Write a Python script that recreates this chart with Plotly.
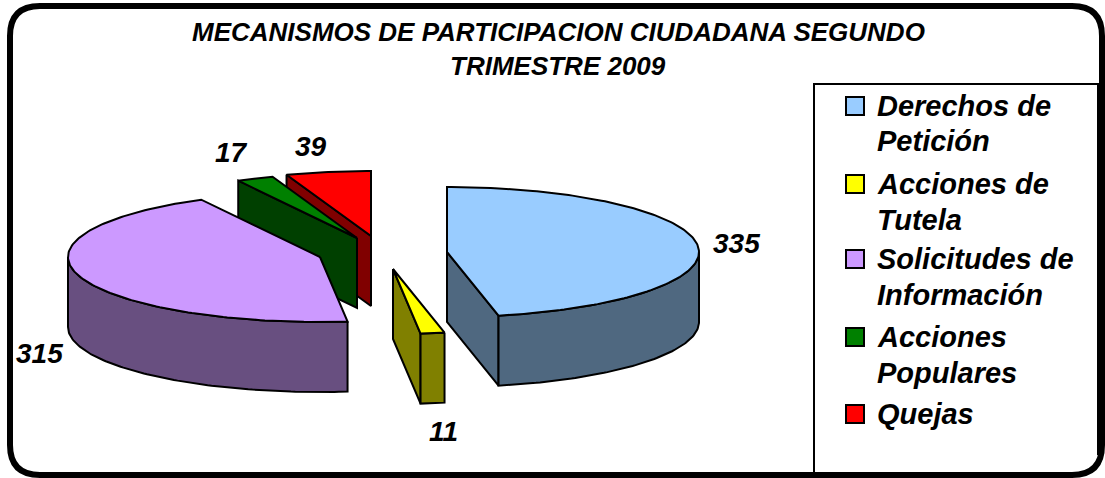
import numpy as np
import plotly.graph_objects as go

# --- data ---
title_lines = ["MECANISMOS DE PARTICIPACION CIUDADANA SEGUNDO", "TRIMESTRE 2009"]
categories = ["Derechos de Petición", "Acciones de Tutela", "Solicitudes de Información",
              "Acciones Populares", "Quejas"]
legend_lines = [["Derechos de", "Petición"], ["Acciones de", "Tutela"],
                ["Solicitudes de", "Información"], ["Acciones", "Populares"], ["Quejas"]]
values = [335, 11, 315, 17, 39]

# --- styles / layout ---
top_colors = ["#99CCFF", "#FFFF00", "#CC99FF", "#008000", "#FF0000"]
side_colors = ["#4F6880", "#808000", "#684F80", "#004000", "#800000"]
apex_x = [447, 393, 320, 357, 371]
apex_y = [252, 269, 257, 238, 236]
RX, RY, DEPTH = 252, 65, 70
label_pos = [(736, 243), (443, 431), (39, 353), (231, 152), (311, 146)]
FONT = "Liberation Sans"
W, H = 1105, 478

fig = go.Figure()


def rim(cx, cy, a0, a1, dy=0):
    t = np.radians(np.linspace(a0, a1, max(2, int(abs(a1 - a0)) + 2)))
    return cx + RX * np.sin(t), cy - RY * np.cos(t) + dy


def face(xs, ys, color, name):
    fig.add_trace(go.Scatter(x=list(xs), y=list(ys), mode="lines", fill="toself",
                             fillcolor=color, line=dict(color="black", width=2),
                             name=name, hoverinfo="name", showlegend=False))


total = sum(values)
edges = np.concatenate([[0], np.cumsum(values)]) * 360 / total
order = [4, 3, 2, 1, 0]
for i in order:
    a0, a1 = edges[i], edges[i + 1]
    cx, cy = apex_x[i], apex_y[i]
    name = f"{categories[i]}: {values[i]}"
    # radial cut faces turned towards the viewer
    for a, visible in ((a0, 180 < a0 < 360), (a1, 0 < a1 < 180)):
        if visible:
            ex, ey = rim(cx, cy, a, a)
            ex, ey = ex[0], ey[0]
            face([cx, ex, ex, cx, cx], [cy, ey, ey + DEPTH, cy + DEPTH, cy], side_colors[i], name)
    # outer wall (front half of the ellipse only)
    s0, s1 = max(a0, 90), min(a1, 270)
    if s1 > s0:
        tx, ty = rim(cx, cy, s0, s1)
        bx, by = rim(cx, cy, s1, s0, DEPTH)
        face(np.r_[tx, bx, tx[0]], np.r_[ty, by, ty[0]], side_colors[i], name)
    # top
    tx, ty = rim(cx, cy, a0, a1)
    face(np.r_[cx, tx, cx], np.r_[cy, ty, cy], top_colors[i], name)

# value labels
ann = []
for (x, y), v in zip(label_pos, values):
    ann.append(dict(x=x, y=y, text=f"<b><i>{v}</i></b>", showarrow=False,
                    font=dict(family=FONT, size=28, color="black")))
# title
for y, t in zip((32, 66), title_lines):
    ann.append(dict(x=558, y=y, text=f"<b><i>{t}</i></b>", showarrow=False,
                    font=dict(family=FONT, size=26, color="black")))


def rr(x0, y0, x1, y1, r):
    return (f"M{x0+r},{y0} L{x1-r},{y0} Q{x1},{y0} {x1},{y0+r} L{x1},{y1-r} Q{x1},{y1} {x1-r},{y1} "
            f"L{x0+r},{y1} Q{x0},{y1} {x0},{y1-r} L{x0},{y0+r} Q{x0},{y0} {x0+r},{y0} Z")


shapes = [
    dict(type="path", path=rr(10, 6, 1102, 475, 30), fillcolor="white",
         line=dict(color="black", width=6), layer="below"),
    dict(type="path", path=f"M814,473 L814,84 L1098,84 L1098,455", fillcolor="rgba(0,0,0,0)",
         line=dict(color="black", width=2), layer="below"),
]

# legend
row_y = [[106, 141], [184, 220], [259, 295], [337, 373], [414]]
for lines, ys, col in zip(legend_lines, row_y, top_colors):
    shapes.append(dict(type="rect", x0=846, x1=864, y0=ys[0] - 9, y1=ys[0] + 9, fillcolor=col,
                       line=dict(color="black", width=2)))
    for t, y in zip(lines, ys):
        ann.append(dict(x=875, y=y, xanchor="left", text=f"<b><i>{t}</i></b>", showarrow=False,
                        font=dict(family=FONT, size=29, color="black")))

fig.update_layout(
    width=W, height=H, margin=dict(l=0, r=0, t=0, b=0),
    paper_bgcolor="white", plot_bgcolor="white", showlegend=False,
    xaxis=dict(range=[0, W], visible=False, fixedrange=True),
    yaxis=dict(range=[H, 0], visible=False, fixedrange=True),
    annotations=ann, shapes=shapes,
)
fig.write_html("out.html", config=dict(displayModeBar=False),
               post_script="document.body.style.margin='0';")
